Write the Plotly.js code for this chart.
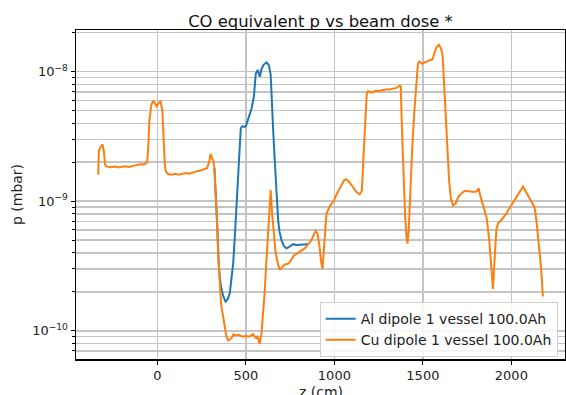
<!DOCTYPE html>
<html>
<head>
<meta charset="utf-8">
<script src="https://cdn.plot.ly/plotly-3.0.1.min.js"></script>
<style>html,body{margin:0;padding:0;background:#fff;}#chart{width:566px;height:395px;}</style>
</head>
<body>
<div id="chart"></div>
<script>
// Cu dipole (orange) : z in cm, p in mbar
const zCu = [-334,-331,-322,-310,-302,-296,-285,-260,-240,-220,-200,-180,-160,-140,-120,-100,-80,-65,-58,-52,-45,-35,-27,-20,-5,10,18,28,35,42,48,60,80,100,120,140,160,180,200,220,240,260,280,292,300,308,316,322,330,338,345,352,360,370,380,390,400,410,420,430,440,460,480,500,520,540,555,565,578,588,596,605,615,625,632,640,648,658,668,680,692,705,720,740,755,770,790,810,830,850,870,885,895,905,915,925,933,942,955,975,995,1015,1035,1055,1068,1085,1106,1125,1143,1155,1165,1175,1183,1190,1210,1230,1250,1270,1290,1310,1330,1350,1369,1375,1382,1390,1400,1408,1413,1420,1430,1440,1452,1462,1472,1480,1495,1510,1525,1540,1555,1565,1578,1591,1603,1612,1618,1625,1633,1640,1648,1658,1670,1685,1700,1718,1735,1750,1770,1790,1808,1815,1823,1840,1860,1875,1885,1896,1905,1915,1925,1945,1965,1985,2010,2030,2050,2066,2080,2100,2120,2131,2142,2150,2160,2169,2178];
const pCu = [1.6e-9,2.45e-9,2.6e-9,2.75e-9,2.4e-9,1.92e-9,1.85e-9,1.83e-9,1.85e-9,1.82e-9,1.85e-9,1.86e-9,1.84e-9,1.88e-9,1.9e-9,1.93e-9,1.92e-9,1.96e-9,2.0e-9,2.6e-9,4.2e-9,5.5e-9,5.85e-9,5.9e-9,5.4e-9,5.8e-9,5.9e-9,5.0e-9,3.0e-9,1.9e-9,1.7e-9,1.62e-9,1.6e-9,1.63e-9,1.6e-9,1.62e-9,1.65e-9,1.63e-9,1.67e-9,1.7e-9,1.72e-9,1.75e-9,1.8e-9,2.0e-9,2.32e-9,2.15e-9,2.05e-9,1.8e-9,1.2e-9,6.5e-10,3.5e-10,2.1e-10,1.6e-10,1.32e-10,1.1e-10,9.0e-11,8.4e-11,8.6e-11,8.8e-11,9.4e-11,9.2e-11,9.3e-11,9.0e-11,9.1e-11,9.0e-11,9.4e-11,8.8e-11,9.0e-11,7.9e-11,9.5e-11,1.25e-10,1.9e-10,3.3e-10,5.5e-10,8.0e-10,1.22e-9,8.0e-10,5.5e-10,4.0e-10,3.3e-10,2.95e-10,3.1e-10,3.25e-10,3.3e-10,3.5e-10,3.8e-10,3.95e-10,4.1e-10,4.3e-10,4.6e-10,5.0e-10,5.6e-10,5.9e-10,5.6e-10,4.6e-10,3.4e-10,3.0e-10,4.5e-10,8.0e-10,9.2e-10,1.0e-9,1.15e-9,1.3e-9,1.45e-9,1.48e-9,1.4e-9,1.28e-9,1.18e-9,1.13e-9,1.2e-9,2.3e-9,4.5e-9,6.8e-9,7.1e-9,6.9e-9,7.1e-9,7.1e-9,7.2e-9,7.3e-9,7.3e-9,7.4e-9,7.5e-9,7.8e-9,7.7e-9,3.5e-9,1.6e-9,7.5e-10,5.2e-10,4.7e-10,6.0e-10,1.3e-9,2.6e-9,5.0e-9,8.0e-9,1.15e-8,1.2e-8,1.15e-8,1.18e-8,1.2e-8,1.22e-8,1.25e-8,1.4e-8,1.55e-8,1.61e-8,1.5e-8,1.3e-8,9.0e-9,5.5e-9,3.5e-9,2.2e-9,1.45e-9,1.05e-9,9.3e-10,9.6e-10,1.08e-9,1.15e-9,1.2e-9,1.2e-9,1.19e-9,1.18e-9,1.2e-9,1.26e-9,1.12e-9,9.3e-10,7.5e-10,5.0e-10,3.3e-10,2.1e-10,3.5e-10,6.0e-10,6.8e-10,7.2e-10,7.8e-10,8.6e-10,9.7e-10,1.08e-9,1.2e-9,1.3e-9,1.2e-9,1.08e-9,9.7e-10,9.0e-10,7.0e-10,5.3e-10,4.0e-10,2.95e-10,1.84e-10];

// Al dipole (blue)
const zAl = [322,330,338,345,352,362,372,385,397,409,420,428,438,447,455,462,471,480,490,500,510,520,532,545,556,566,572,579,588,600,617,630,640,645,654,662,669,676,682,690,701,715,729,745,767,785,805,825,842,848];
const pAl = [1.8e-9,1.2e-9,6.5e-10,3.6e-10,2.6e-10,2.1e-10,1.85e-10,1.68e-10,1.75e-10,1.95e-10,2.6e-10,3.3e-10,5.5e-10,9.1e-10,1.6e-9,2.64e-9,3.66e-9,3.8e-9,3.75e-9,3.8e-9,4.2e-9,4.6e-9,5.2e-9,6.4e-9,9.7e-9,1.03e-8,9.6e-9,9.15e-9,1.05e-8,1.13e-8,1.18e-8,1.12e-8,9.5e-9,7.2e-9,3.55e-9,2.2e-9,1.46e-9,1.0e-9,7.2e-10,5.8e-10,5.0e-10,4.5e-10,4.33e-10,4.45e-10,4.66e-10,4.6e-10,4.62e-10,4.6e-10,4.66e-10,4.7e-10];

const seriesNames = ["Al dipole 1 vessel 100.0Ah", "Cu dipole 1 vessel 100.0Ah"];
const xTicks = [0, 500, 1000, 1500, 2000];
const yMajor = [1e-10, 1e-9, 1e-8];
const yMajorText = ["10<sup>\u221210</sup>", "10<sup>\u22129</sup>", "10<sup>\u22128</sup>"];
const yMinor = [7e-11,8e-11,9e-11,2e-10,3e-10,4e-10,5e-10,6e-10,7e-10,8e-10,9e-10,2e-9,3e-9,4e-9,5e-9,6e-9,7e-9,8e-9,9e-9,2e-8];

const font = "DejaVu Sans, sans-serif";
const traces = [
  {x: zAl, y: pAl, name: seriesNames[0], type: "scatter", mode: "lines",
   line: {color: "#1f77b4", width: 2}},
  {x: zCu, y: pCu, name: seriesNames[1], type: "scatter", mode: "lines",
   line: {color: "#ff7f0e", width: 2}}
];
const layout = {
  width: 566, height: 395,
  margin: {l: 76, r: 1, t: 30, b: 36},
  paper_bgcolor: "#fff", plot_bgcolor: "#fff",
  font: {family: font, size: 13, color: "#000"},
  title: {text: "CO equivalent p vs beam dose *", font: {family: font, size: 16.4, color: "#111"},
          xref: "paper", x: 0.5, xanchor: "center", yref: "container", y: 0.945, yanchor: "middle"},
  xaxis: {
    range: [-460, 2303], tickmode: "array", tickvals: xTicks,
    ticks: "outside", ticklen: 4, tickcolor: "#000", tickwidth: 1,
    showgrid: true, gridcolor: "#c4c4c4", gridwidth: 1.5,
    showline: true, linecolor: "#000", linewidth: 1.5, mirror: true,
    zeroline: false, tickfont: {size: 13, color: "#222"}
  },
  yaxis: {
    type: "log", range: [-10.218, -7.678], tickmode: "array",
    tickvals: yMajor, ticktext: yMajorText,
    ticks: "outside", ticklen: 4, tickcolor: "#000", tickwidth: 1,
    showgrid: true, gridcolor: "#c4c4c4", gridwidth: 1.5,
    minor: {tickmode: "array", tickvals: yMinor, ticks: "outside", ticklen: 2.5, tickcolor: "#000",
            showgrid: true, gridcolor: "#c4c4c4", gridwidth: 1.5},
    showline: true, linecolor: "#000", linewidth: 1.5, mirror: true,
    zeroline: false, tickfont: {size: 13, color: "#222"},
    title: {text: "p (mbar)", font: {size: 14, color: "#222"}, standoff: 6}
  },
  annotations: [{
    text: "z (cm)", xref: "paper", yref: "paper", x: 0.5, y: -0.099,
    xanchor: "center", yanchor: "middle", showarrow: false,
    font: {family: font, size: 14, color: "#222"}
  }],
  showlegend: true,
  legend: {x: 0.985, xanchor: "right", y: 0.006, yanchor: "bottom",
           bgcolor: "rgba(255,255,255,0.85)", bordercolor: "#d0d0d0", borderwidth: 1,
           font: {family: font, size: 14, color: "#222"}, tracegroupgap: 0}
};
Plotly.newPlot("chart", traces, layout, {displayModeBar: false, staticPlot: true});
</script>
</body>
</html>
